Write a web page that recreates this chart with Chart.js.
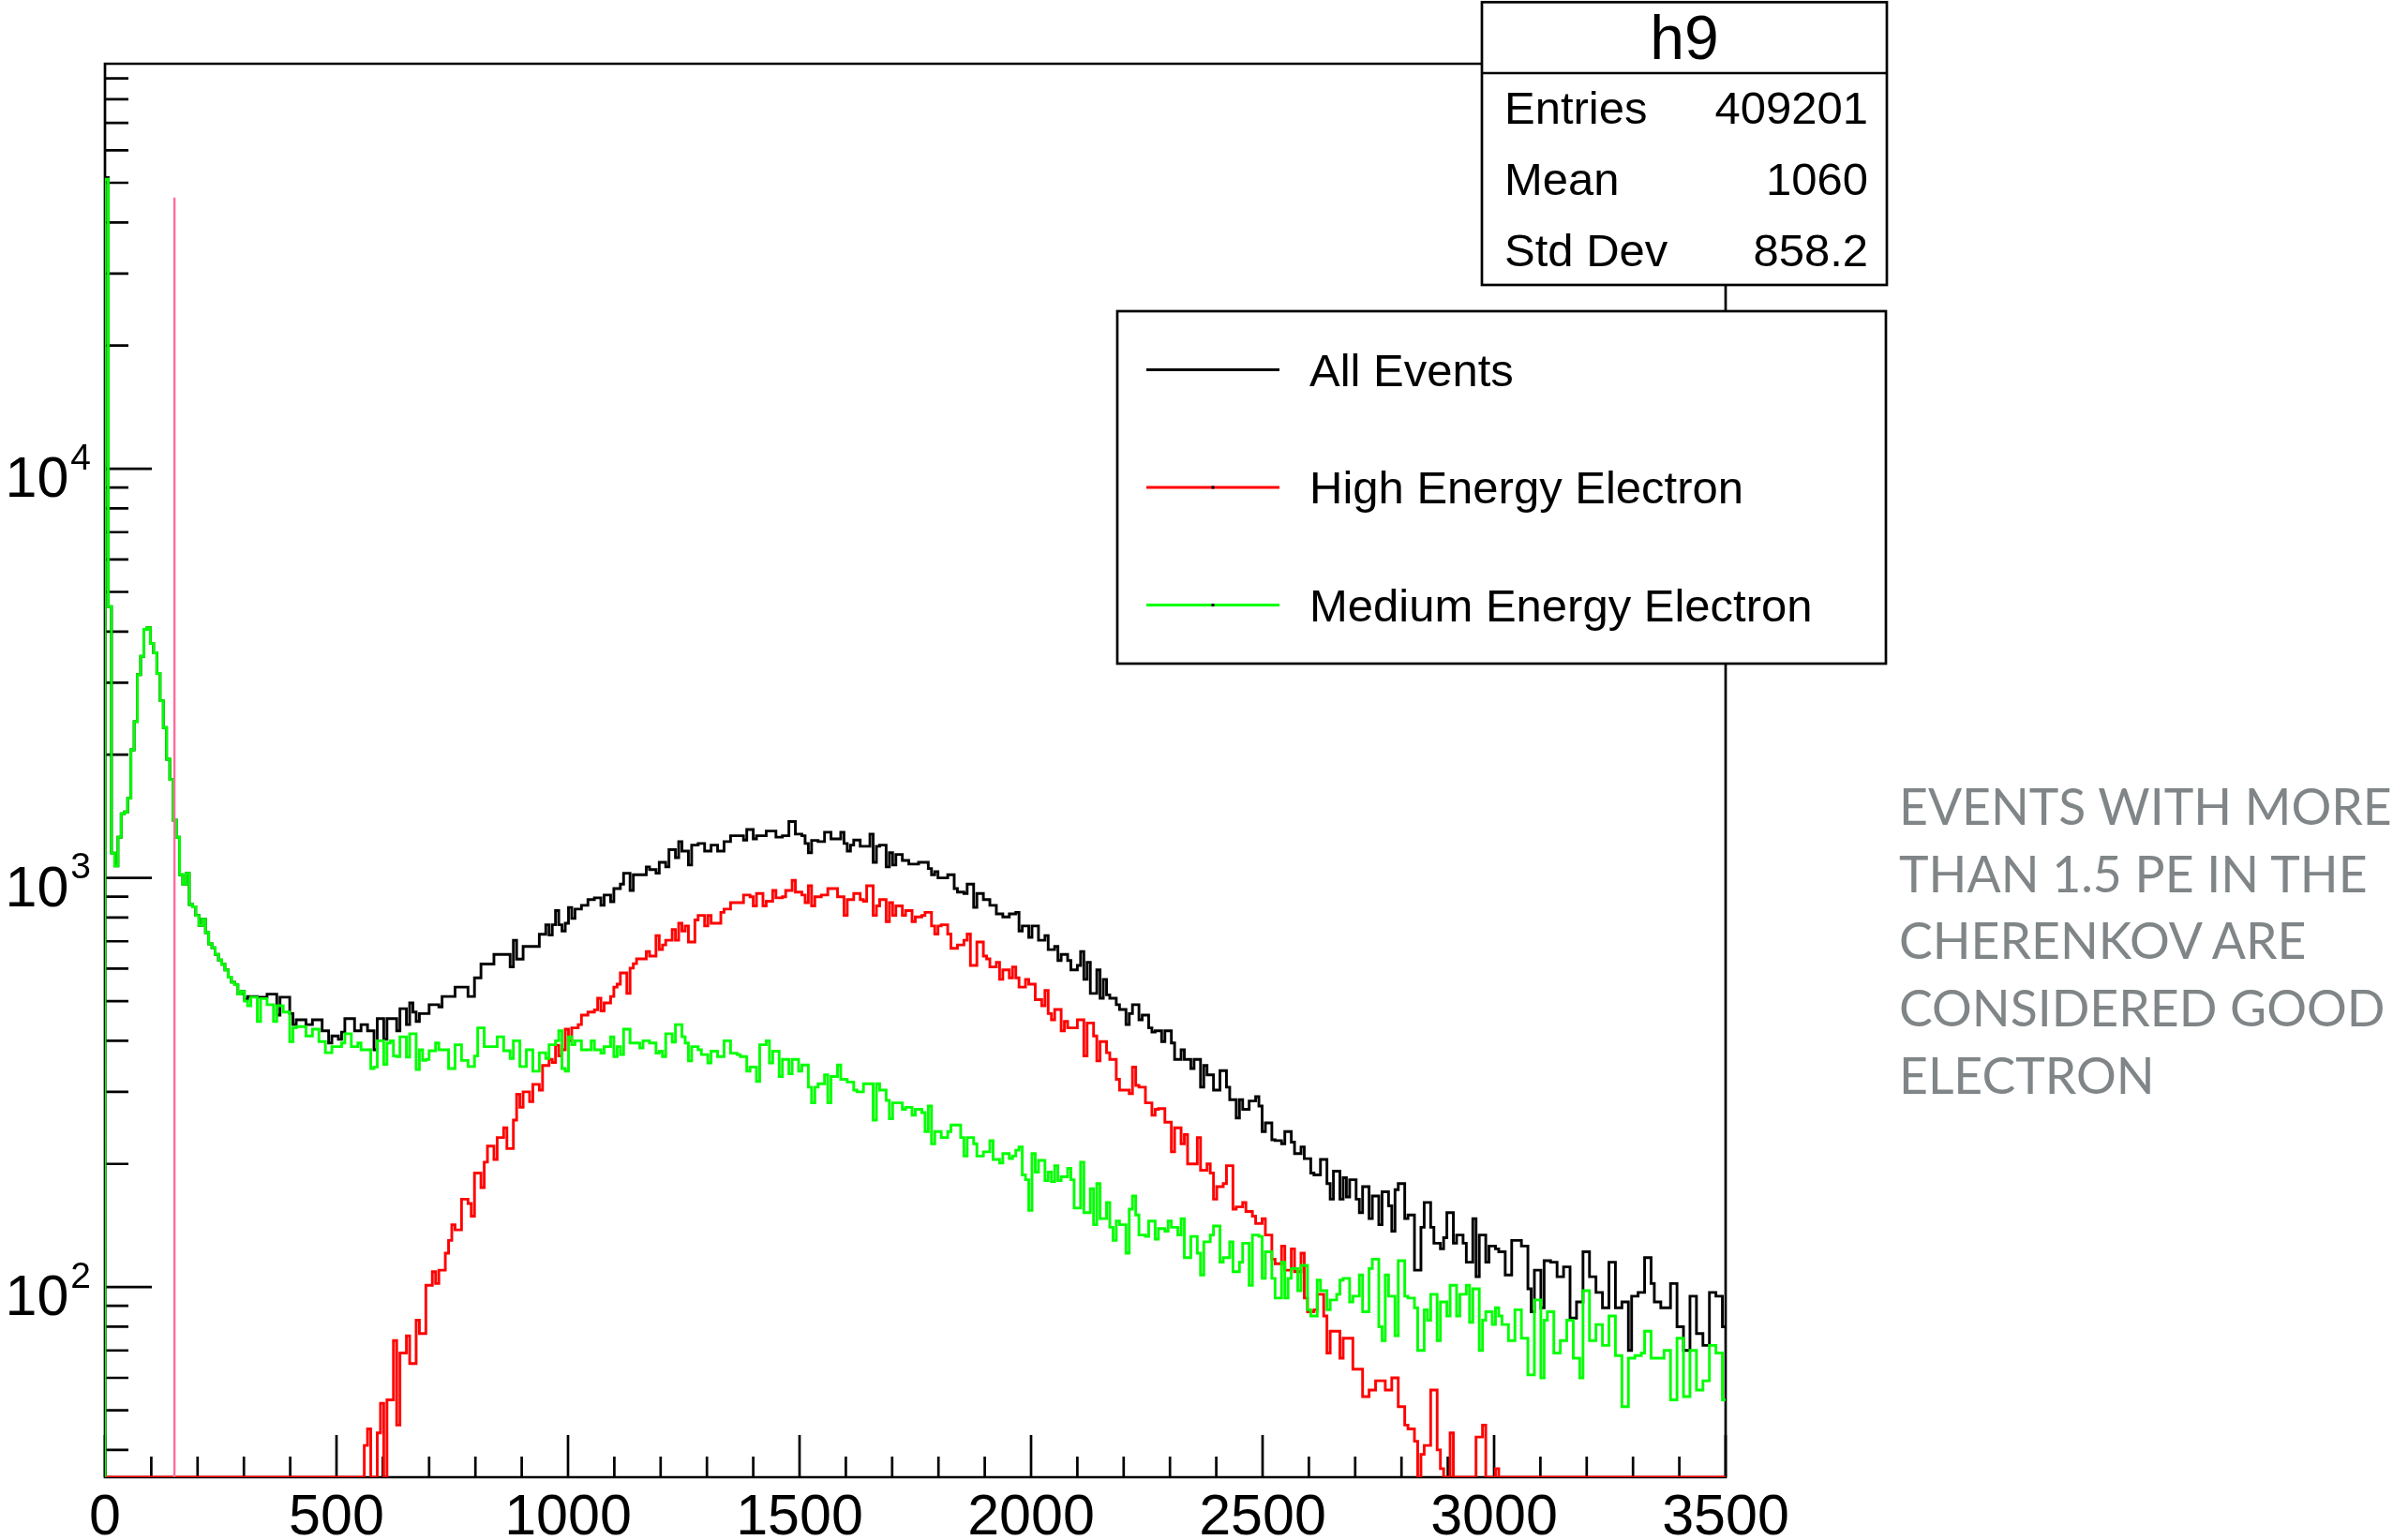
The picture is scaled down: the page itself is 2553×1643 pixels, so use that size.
<!DOCTYPE html>
<html>
<head>
<meta charset="utf-8">
<title>h9</title>
<script src="https://cdn.jsdelivr.net/npm/chart.js@4.4.1/dist/chart.umd.min.js"></script>
<style>
  html, body { margin: 0; padding: 0; background: #fff; overflow: hidden; }
  #wrap { position: relative; width: 2553px; height: 1643px; }
  #c { position: absolute; left: 0; top: 0; }
  #overlay { position: absolute; left: 0; top: 0; pointer-events: none; }
</style>
</head>
<body>
<div id="wrap">
  <canvas id="c" width="2553" height="1643"></canvas>
  <svg id="overlay" width="2553" height="1643" xmlns="http://www.w3.org/2000/svg"></svg>
</div>
<script>
// ---- axis definition ----
const X_MIN = 0, X_MAX = 3500, BIN_WIDTH = 7;
const Y_MIN = 34.3, Y_MAX = 97700;
const X_TICKS = [0, 500, 1000, 1500, 2000, 2500, 3000, 3500];
const X_MINOR_STEP = 100;
const Y_TICKS = [100, 1000, 10000];

// ---- series ----
const SERIES_NAMES = ['All Events', 'High Energy Electron', 'Medium Energy Electron'];

// counts per bin (500 bins of width 7)
const allEvents = [
51500,4600,1150,1070,1257,1435,1450,1566,2056,2410,
3140,3480,4050,4090,3740,3550,3160,2710,2330,1950,
1740,1384,1257,1018,966,1027,861,850,810,765,
793,735,690,675,650,630,615,596,572,556,
548,520,528,505,513,513,513,511,511,511,
520,520,520,462,511,511,511,466,438,450,
450,450,438,438,450,450,450,423,423,395,
411,411,403,420,453,453,453,423,423,438,
438,423,423,380,453,453,403,453,453,453,
423,479,479,438,495,470,446,466,466,466,
490,490,490,484,513,513,513,513,541,541,
541,541,513,513,570,570,616,616,616,616,
650,650,650,650,650,606,704,633,633,680,
680,680,680,680,728,728,768,725,768,832,
768,742,775,847,796,839,839,857,857,885,
885,894,894,857,908,908,875,942,942,966,
1027,1027,932,1018,1018,1018,1018,1064,1048,1048,
1027,1092,1092,1064,1172,1172,1121,1227,1163,1163,
1075,1203,1203,1214,1214,1163,1163,1203,1203,1163,
1163,1227,1227,1268,1268,1268,1268,1237,1313,1313,
1246,1268,1268,1268,1302,1302,1302,1258,1258,1268,
1268,1373,1373,1280,1280,1268,1214,1152,1235,1235,
1227,1227,1293,1293,1246,1246,1246,1293,1214,1163,
1203,1237,1237,1195,1195,1195,1280,1092,1195,1203,
1203,1064,1152,1075,1141,1141,1103,1103,1081,1081,
1081,1092,1092,1092,1054,1018,1036,1000,1000,1000,
1018,1018,942,923,923,916,966,966,847,916,
916,885,885,857,857,817,817,803,803,817,
817,824,742,763,763,716,763,763,704,704,
723,668,668,680,628,650,650,628,596,596,
611,661,565,622,522,522,596,508,565,518,
508,508,490,477,477,438,466,490,490,450,
462,462,430,420,423,423,398,423,423,395,
360,360,380,360,360,342,360,360,308,348,
330,330,303,303,338,338,308,287,287,259,
287,272,272,285,285,292,277,240,252,252,
229,228,228,224,240,240,226,212,212,220,
206,206,190,188,188,205,205,179,164,192,
192,164,185,166,183,183,164,152,176,176,
147,167,167,142,171,171,158,137,173,179,
179,147,150,150,110,110,140,161,161,140,
128,128,124,132,152,152,128,134,134,128,
115,115,147,106,134,134,115,126,126,124,
122,122,107,107,130,130,130,126,126,99,
87,110,110,89,116,116,115,115,106,106,
112,112,84,84,92,92,122,122,106,106,
97,97,89,89,115,115,89,89,92,92,
70,95,95,97,97,118,118,102,92,92,
89,89,89,102,102,80,80,70,70,95,
95,77,77,72,72,97,97,95,95,80];

const highEnergy = [
0,0,0,0,0,0,0,0,0,0,
0,0,0,0,0,0,0,0,0,0,
0,0,0,0,0,0,0,0,0,0,
0,0,0,0,0,0,0,0,0,0,
0,0,0,0,0,0,0,0,0,0,
0,0,0,0,0,0,0,0,0,0,
0,0,0,0,0,0,0,0,0,0,
0,0,0,0,0,0,0,0,0,0,
41,45,0,0,44,52,0,53,53,74,
46,69,69,76,65,65,83,77,77,101,
101,109,102,110,110,121,130,142,138,138,
164,164,160,149,190,190,175,202,221,221,
205,232,232,245,218,218,256,296,275,300,
300,284,313,313,303,348,348,360,354,390,
367,380,427,400,430,430,438,462,462,470,
470,476,508,473,495,495,513,541,550,586,
586,522,602,617,634,634,634,661,644,644,
723,668,686,704,704,748,704,775,742,763,
697,697,789,810,810,763,810,775,775,775,
824,839,839,870,870,870,870,908,908,899,
854,916,916,854,877,877,932,894,894,899,
932,932,986,923,923,908,870,957,854,899,
899,908,908,942,942,942,899,899,810,885,
885,916,916,885,877,957,957,810,854,885,
885,782,870,810,854,854,810,832,832,782,
803,803,810,824,824,763,729,763,768,768,
729,673,673,686,686,704,729,611,611,697,
697,644,634,606,606,622,565,596,596,570,
606,570,541,541,565,550,550,504,504,487,
531,466,450,477,477,423,446,430,430,430,
450,450,367,442,442,411,357,398,398,374,
360,360,322,303,303,303,297,345,311,308,
308,282,282,263,272,273,273,253,253,214,
245,245,224,236,200,200,200,232,193,193,
200,190,164,176,176,179,198,198,155,157,
157,161,153,153,149,143,143,147,134,134,
117,114,114,126,110,110,124,109,109,121,
94,87,87,88,96,96,85,69,78,78,
78,67,75,75,75,63,63,63,54,54,
56,56,59,59,59,56,56,60,60,51,
51,46,45,45,42,0,39,41,41,56,
56,40,36,0,0,44,0,0,0,0,
0,0,0,43,43,46,0,0,0,36,
0,0,0,0,0,0,0,0,0,0,
0,0,0,0,0,0,0,0,0,0,
0,0,0,0,0,0,0,0,0,0,
0,0,0,0,0,0,0,0,0,0,
0,0,0,0,0,0,0,0,0,0,
0,0,0,0,0,0,0,0,0,0,
0,0,0,0,0,0,0,0,0,0];

const mediumEnergy = [
51000,4600,1150,1070,1257,1435,1450,1566,2056,2410,
3140,3480,4050,4090,3740,3550,3160,2710,2330,1950,
1740,1384,1257,1018,966,1027,861,850,810,765,
793,735,690,675,650,630,615,596,572,556,
548,520,528,500,487,511,511,446,507,507,
490,490,446,487,487,470,470,398,430,433,
433,433,411,411,427,427,398,398,374,374,
387,387,387,395,416,416,387,387,395,380,
380,380,342,345,400,400,350,395,400,367,
366,409,409,365,416,416,340,380,358,360,
378,378,395,380,380,380,342,342,391,391,
358,358,346,346,367,430,430,387,387,387,
387,409,409,378,378,362,400,400,346,346,
380,380,337,337,374,374,362,391,391,400,
423,342,337,409,391,400,400,380,380,380,
400,380,380,373,387,387,409,366,387,370,
427,427,395,395,395,384,400,400,395,395,
373,377,366,416,416,397,438,438,409,395,
357,387,387,380,370,370,353,377,377,366,
366,400,400,373,373,370,366,366,337,345,
345,318,391,391,400,353,377,377,327,360,
360,332,360,360,337,349,349,308,282,308,
314,314,330,282,327,327,349,322,322,317,
317,303,300,300,314,314,314,256,314,303,
303,286,258,282,282,282,272,275,275,263,
272,272,267,240,277,224,240,240,232,232,
240,249,249,249,232,209,232,232,224,209,
209,214,214,228,205,205,201,212,212,206,
209,216,220,188,183,154,212,191,204,204,
182,191,181,198,182,186,186,195,183,156,
156,202,152,152,174,142,179,147,147,161,
140,130,145,142,142,121,155,167,150,134,
134,133,145,145,131,139,139,137,145,140,
140,134,147,118,118,133,133,121,107,129,
129,134,141,141,115,118,118,129,109,109,
115,128,128,101,134,134,133,105,122,122,
105,94,94,115,94,105,111,111,98,113,
113,88,85,85,104,98,98,88,93,93,
96,104,105,105,92,95,95,107,87,87,
111,117,117,80,74,107,95,95,76,116,
116,95,94,94,89,70,70,88,83,96,
96,74,92,92,85,101,101,85,96,96,
101,82,99,99,70,83,87,87,81,89,
85,81,81,74,74,88,88,75,75,61,
61,93,93,60,83,87,87,69,69,74,
74,83,83,67,67,60,98,98,74,74,
81,81,72,72,85,85,68,68,51,51,
67,67,68,68,69,78,78,67,67,67,
67,70,70,53,53,75,75,54,54,70,
70,56,56,59,59,72,72,69,69,53];

// selection cut drawn as a vertical marker
const CUT_X = 150, CUT_TOP = 46000;

// statistics box
const STATS_TITLE = 'h9';
const STATS_LABELS = ['Entries', 'Mean', 'Std Dev'];
const STATS_VALUES = ['409201', '1060', '858.2'];

// side note
const NOTE_LINES = ['EVENTS WITH MORE', 'THAN 1.5 PE IN THE', 'CHERENKOV ARE', 'CONSIDERED GOOD', 'ELECTRON'];

// ---- styling ----
const FONT = '"Liberation Sans", Arial, Helvetica, sans-serif';
const COLORS = ['#000000', '#ff0000', '#00ff00'];
const CUT_COLOR = '#ff6b9b';
const LINE_W = 2.9;
const AXIS_W = 2.7;

function histPoints(values) {
  const pts = [{ x: X_MIN, y: Y_MIN }];
  values.forEach((v, i) => pts.push({ x: X_MIN + i * BIN_WIDTH, y: Math.max(v, Y_MIN) }));
  pts.push({ x: X_MIN + values.length * BIN_WIDTH, y: Math.max(values[values.length - 1], Y_MIN) });
  return pts;
}

// frame, inward ticks and tick labels in the ROOT style
const rootAxes = {
  id: 'rootAxes',
  beforeDatasetsDraw(chart) {
    const { ctx, chartArea: a } = chart;
    const xs = chart.scales.x, ys = chart.scales.y;
    ctx.save();
    ctx.strokeStyle = '#000';
    ctx.lineWidth = AXIS_W;
    ctx.beginPath();
    ctx.rect(a.left, a.top, a.right - a.left, a.bottom - a.top);
    ctx.stroke();
    ctx.beginPath();
    const majorStep = X_TICKS[1] - X_TICKS[0];
    for (let v = X_MIN; v <= X_MAX; v += X_MINOR_STEP) {
      const px = xs.getPixelForValue(v);
      const len = (v - X_MIN) % majorStep === 0 ? 45 : 22;
      ctx.moveTo(px, a.bottom);
      ctx.lineTo(px, a.bottom - len);
    }
    const e0 = Math.floor(Math.log10(Y_MIN)), e1 = Math.ceil(Math.log10(Y_MAX));
    for (let e = e0; e <= e1; e++) {
      for (let m = 1; m <= 9; m++) {
        const v = m * Math.pow(10, e);
        if (v < Y_MIN || v > Y_MAX) continue;
        const py = ys.getPixelForValue(v);
        ctx.moveTo(a.left, py);
        ctx.lineTo(a.left + (m === 1 ? 50 : 25), py);
      }
    }
    ctx.stroke();
    ctx.restore();
  },
  afterDraw(chart) {
    const { ctx, chartArea: a } = chart;
    const xs = chart.scales.x, ys = chart.scales.y;
    ctx.save();
    ctx.fillStyle = '#000';
    ctx.textBaseline = 'alphabetic';
    ctx.font = '61px ' + FONT;
    ctx.textAlign = 'center';
    X_TICKS.forEach(v => ctx.fillText(String(v), xs.getPixelForValue(v), a.bottom + 61));
    ctx.textAlign = 'left';
    Y_TICKS.forEach(v => {
      const py = ys.getPixelForValue(v);
      const exp = Math.round(Math.log10(v));
      ctx.font = '61px ' + FONT;
      ctx.fillText('10', 5.5, py + 30);
      const w = ctx.measureText('10').width;
      ctx.font = '39px ' + FONT;
      ctx.fillText(String(exp), 5.5 + w + 2, py + 0.5);
    });
    ctx.restore();
  }
};

const histStyle = { pointRadius: 0, borderWidth: LINE_W, stepped: 'before', fill: false,
                    tension: 0, borderJoinStyle: 'miter', borderCapStyle: 'butt' };

new Chart(document.getElementById('c'), {
  type: 'line',
  data: {
    datasets: [
      Object.assign({ label: SERIES_NAMES[2], data: histPoints(mediumEnergy), borderColor: COLORS[2], order: 1 }, histStyle),
      Object.assign({ label: SERIES_NAMES[1], data: histPoints(highEnergy), borderColor: COLORS[1], order: 2 }, histStyle),
      Object.assign({ label: SERIES_NAMES[0], data: histPoints(allEvents), borderColor: COLORS[0], order: 3 }, histStyle),
      { label: 'cut', data: [{ x: CUT_X, y: Y_MIN }, { x: CUT_X, y: CUT_TOP }], borderColor: CUT_COLOR,
        borderWidth: 2.4, pointRadius: 0, fill: false, order: 0 }
    ]
  },
  options: {
    responsive: false,
    devicePixelRatio: 1,
    animation: false,
    normalized: true,
    events: [],
    layout: { padding: { left: 112, right: 712, top: 68, bottom: 67 } },
    plugins: { legend: { display: false }, tooltip: { enabled: false }, title: { display: false } },
    scales: {
      x: { type: 'linear', min: X_MIN, max: X_MAX, bounds: 'data', display: false },
      y: { type: 'logarithmic', min: Y_MIN, max: Y_MAX, bounds: 'data', display: false }
    }
  },
  plugins: [rootAxes]
});

// ---- overlay boxes and text ----
const NS = 'http://www.w3.org/2000/svg';
const svg = document.getElementById('overlay');
function el(tag, attrs, text) {
  const e = document.createElementNS(NS, tag);
  for (const k in attrs) e.setAttribute(k, attrs[k]);
  if (text != null) e.textContent = text;
  svg.appendChild(e);
  return e;
}

// statistics box
el('rect', { x: 1581, y: 2.3, width: 432, height: 301.7, fill: '#fff', stroke: '#000', 'stroke-width': AXIS_W });
el('line', { x1: 1581, y1: 78, x2: 2013, y2: 78, stroke: '#000', 'stroke-width': AXIS_W });
el('text', { x: 1797, y: 63, 'text-anchor': 'middle', 'font-family': FONT, 'font-size': 66 }, STATS_TITLE);
STATS_LABELS.forEach((lab, i) => {
  const yb = 132 + i * 76;
  el('text', { x: 1605, y: yb, 'font-family': FONT, 'font-size': 49 }, lab);
  el('text', { x: 1993, y: yb, 'text-anchor': 'end', 'font-family': FONT, 'font-size': 49 }, STATS_VALUES[i]);
});

// legend
el('rect', { x: 1192, y: 332, width: 820, height: 376, fill: '#fff', stroke: '#000', 'stroke-width': AXIS_W });
SERIES_NAMES.forEach((name, i) => {
  const cy = 394.5 + i * 125.5;
  el('line', { x1: 1223, y1: cy, x2: 1365, y2: cy, stroke: COLORS[i], 'stroke-width': LINE_W });
  el('rect', { x: 1292.5, y: cy - 1.5, width: 3, height: 3, fill: '#000' });
  el('text', { x: 1397, y: cy + 17, 'font-family': FONT, 'font-size': 49 }, name);
});

// side note
const noteEls = NOTE_LINES.map((t, i) =>
  el('text', { x: 2026, y: 880 + i * 71.7, 'font-family': 'Lato, "Open Sans", sans-serif',
               'font-size': 53.5, fill: '#808587' }, t));
function fitNote() {
  const natural = noteEls[0].getComputedTextLength();
  const spacing = (515 - natural) / NOTE_LINES[0].length;
  noteEls.forEach(e => e.setAttribute('letter-spacing', spacing.toFixed(2)));
}
fitNote();
if (document.fonts && document.fonts.ready) document.fonts.ready.then(fitNote);
</script>
</body>
</html>
